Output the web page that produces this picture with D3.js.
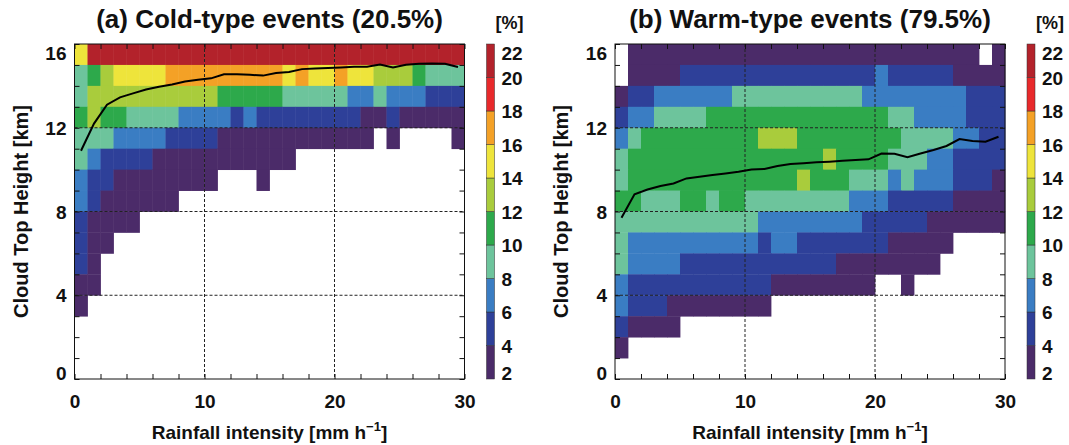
<!DOCTYPE html>
<html>
<head>
<meta charset="utf-8">
<script src="https://cdn.jsdelivr.net/npm/d3@7"></script>
<style>
  body { margin: 0; background: #fff; }
  text { font-family: "Liberation Sans", Arial, Helvetica, sans-serif; font-weight: bold; fill: #111; }
</style>
</head>
<body>
<svg id="fig" width="1069" height="445"></svg>
<script>
// rainfall intensity bins (lower edge, mm/h) and cloud top height bins (lower edge, km, top row first)
var rainBins = [0,1,2,3,4,5,6,7,8,9,10,11,12,13,14,15,16,17,18,19,20,21,22,23,24,25,26,27,28,29];
var heightBins = [15,14,13,12,11,10,9,8,7,6,5,4,3,2,1,0];

// colour levels [%]
var levelEdges = [2,4,6,8,10,12,14,16,18,20,22];
var levelColors = ["#4b2b69","#2e4099","#3a7dc3","#6dc49c","#2da94b","#a9cc3c","#eee43b","#f4a126","#e8292b","#b3222b"];

// frequency [%] per cell, 0 = below 2 %
var coldPct = [
  [15,21,21,21,21,21,21,21,21,21, 21,21,21,21,21,21,21,21,21,21, 21,21,21,21,21,21,21,21,21,21],
  [9,11,13,15,15,15,15,17,17,17, 17,17,17,17,17,17,15,17,15,15, 17,15,15,13,13,13,11,9,9,9],
  [9,13,13,13,13,13,13,13,13,13, 13,11,11,11,11,11,9,9,9,9, 9,7,7,9,7,7,7,5,5,5],
  [11,13,11,11,9,9,9,9,7,7, 7,7,5,7,5,5,5,5,5,5, 5,5,3,3,5,3,3,3,3,3],
  [9,9,9,7,7,7,7,5,5,5, 5,3,3,3,3,3,3,3,3,3, 3,3,3,0,3,0,0,0,0,3],
  [9,7,5,5,5,5,3,3,3,3, 3,3,3,3,3,3,3,0,0,0, 0,0,0,0,0,0,0,0,0,0],
  [7,5,5,3,3,3,3,3,3,3, 3,0,0,0,3,0,0,0,0,0, 0,0,0,0,0,0,0,0,0,0],
  [7,5,3,3,3,3,3,3,0,0, 0,0,0,0,0,0,0,0,0,0, 0,0,0,0,0,0,0,0,0,0],
  [5,3,3,3,3,0,0,0,0,0, 0,0,0,0,0,0,0,0,0,0, 0,0,0,0,0,0,0,0,0,0],
  [5,3,3,0,0,0,0,0,0,0, 0,0,0,0,0,0,0,0,0,0, 0,0,0,0,0,0,0,0,0,0],
  [5,3,0,0,0,0,0,0,0,0, 0,0,0,0,0,0,0,0,0,0, 0,0,0,0,0,0,0,0,0,0],
  [3,3,0,0,0,0,0,0,0,0, 0,0,0,0,0,0,0,0,0,0, 0,0,0,0,0,0,0,0,0,0],
  [3,0,0,0,0,0,0,0,0,0, 0,0,0,0,0,0,0,0,0,0, 0,0,0,0,0,0,0,0,0,0],
  [0,0,0,0,0,0,0,0,0,0, 0,0,0,0,0,0,0,0,0,0, 0,0,0,0,0,0,0,0,0,0],
  [0,0,0,0,0,0,0,0,0,0, 0,0,0,0,0,0,0,0,0,0, 0,0,0,0,0,0,0,0,0,0],
  [0,0,0,0,0,0,0,0,0,0, 0,0,0,0,0,0,0,0,0,0, 0,0,0,0,0,0,0,0,0,0]
];

var warmPct = [
  [0,3,3,3,3,3,3,3,3,3, 3,3,3,3,3,3,3,3,3,3, 3,3,3,3,3,3,3,3,0,3],
  [0,3,3,3,3,5,5,5,5,5, 5,5,5,5,5,5,5,5,5,5, 7,5,5,5,5,5,3,3,3,3],
  [3,5,5,7,7,7,7,7,7,9, 9,9,9,9,9,9,9,9,9,7, 7,7,7,7,7,7,7,5,5,5],
  [5,7,7,9,9,9,9,11,11,11, 11,11,11,11,11,11,11,11,11,11, 11,9,9,7,7,7,7,5,5,5],
  [7,9,11,11,11,11,11,11,11,11, 11,13,13,13,11,11,11,11,11,11, 11,11,9,9,9,9,7,7,5,5],
  [9,11,11,11,11,11,11,11,11,11, 11,11,11,11,11,11,13,11,11,11, 11,9,9,9,7,7,5,5,5,5],
  [9,11,11,11,11,11,11,11,11,11, 11,11,11,11,13,11,11,11,9,9, 9,7,9,7,7,7,5,5,5,3],
  [11,11,9,9,9,11,11,9,11,11, 9,9,9,9,9,9,9,9,7,7, 7,5,5,5,5,5,3,3,3,3],
  [9,9,9,9,9,9,9,9,9,9, 9,7,7,7,7,7,7,7,7,5, 5,5,5,5,3,3,3,3,3,3],
  [9,7,7,7,7,7,7,7,7,7, 7,5,7,7,5,5,5,5,5,5, 5,3,3,3,3,3,0,0,0,0],
  [9,7,7,7,7,5,5,5,5,5, 5,5,5,5,5,5,5,3,3,3, 3,3,3,3,3,0,0,0,0,0],
  [7,5,5,5,5,5,5,5,5,5, 5,5,3,3,3,3,3,3,3,3, 0,0,3,0,0,0,0,0,0,0],
  [7,5,5,5,3,3,3,3,3,3, 3,3,0,0,0,0,0,0,0,0, 0,0,0,0,0,0,0,0,0,0],
  [5,3,3,3,3,0,0,0,0,0, 0,0,0,0,0,0,0,0,0,0, 0,0,0,0,0,0,0,0,0,0],
  [3,0,0,0,0,0,0,0,0,0, 0,0,0,0,0,0,0,0,0,0, 0,0,0,0,0,0,0,0,0,0],
  [0,0,0,0,0,0,0,0,0,0, 0,0,0,0,0,0,0,0,0,0, 0,0,0,0,0,0,0,0,0,0]
];

// mean cloud top height [km] per rainfall bin
var coldMeanTop = [10.9,12.2,13.1,13.45,13.64,13.83,13.96,14.07,14.21,14.29, 14.36,14.55,14.56,14.53,14.49,14.61,14.66,14.8,14.83,14.85, 14.88,14.91,14.91,15.02,14.88,15.01,15.06,15.07,15.06,14.9];
var warmMeanTop = [7.7,8.82,9.05,9.22,9.34,9.58,9.66,9.74,9.82,9.9, 10.01,10.03,10.17,10.27,10.31,10.35,10.38,10.42,10.46,10.49, 10.77,10.76,10.59,10.77,10.94,11.13,11.46,11.37,11.33,11.57];

var panels = [
  { title: "(a) Cold-type events (20.5%)", pct: coldPct, mean: coldMeanTop, left: 74.5 },
  { title: "(b) Warm-type events (79.5%)", pct: warmPct, mean: warmMeanTop, left: 615 }
];

var svg = d3.select("#fig");
var plotW = 390, plotTop = 44, plotBottom = 379;

var color = d3.scaleThreshold()
    .domain(levelEdges.slice(1, -1))
    .range(levelColors);

panels.forEach(function(p){
  var x = d3.scaleLinear().domain([0, 30]).range([p.left, p.left + plotW]);
  var y = d3.scaleLinear().domain([0, 16]).range([plotBottom, plotTop]);
  var g = svg.append("g");

  // cells
  var cells = [];
  p.pct.forEach(function(row, i){
    row.forEach(function(v, j){
      if (v >= 2) cells.push({ r: rainBins[j], h: heightBins[i], v: v });
    });
  });
  g.selectAll("rect.cell")
    .data(cells)
    .enter().append("rect")
      .attr("class", "cell")
      .attr("x", function(d){ return x(d.r); })
      .attr("y", function(d){ return y(d.h + 1); })
      .attr("width", function(d){ return x(d.r + 1) - x(d.r) + 0.4; })
      .attr("height", function(d){ return y(d.h) - y(d.h + 1) + 0.4; })
      .style("fill", function(d){ return color(d.v); });

  // dashed grid
  g.selectAll("line.gx")
    .data([10, 20])
    .enter().append("line")
      .attr("x1", function(d){ return x(d); }).attr("x2", function(d){ return x(d); })
      .attr("y1", plotTop).attr("y2", plotBottom)
      .attr("stroke", "#222").attr("stroke-width", 1).attr("stroke-dasharray", "3,2");
  g.selectAll("line.gy")
    .data([4, 8, 12])
    .enter().append("line")
      .attr("y1", function(d){ return y(d); }).attr("y2", function(d){ return y(d); })
      .attr("x1", p.left).attr("x2", p.left + plotW)
      .attr("stroke", "#222").attr("stroke-width", 1).attr("stroke-dasharray", "3,2");

  // mean cloud top line
  var line = d3.line()
    .x(function(d, i){ return x(rainBins[i] + 0.5); })
    .y(function(d){ return y(d); });
  g.append("path")
    .datum(p.mean)
    .attr("d", line)
    .attr("fill", "none")
    .attr("stroke", "#000")
    .attr("stroke-width", 2);

  // axes
  var xTicks = d3.range(0, 31, 2), yTicks = d3.range(0, 17, 1);
  g.append("g").attr("transform", "translate(0," + plotBottom + ")")
    .call(d3.axisBottom(x).tickValues(xTicks).tickSizeInner(-5).tickSizeOuter(0).tickPadding(16)
      .tickFormat(function(d){ return d % 10 === 0 ? d : ""; }));
  g.append("g").attr("transform", "translate(0," + plotTop + ")")
    .call(d3.axisTop(x).tickValues(xTicks).tickSizeInner(-5).tickSizeOuter(0).tickFormat(""));
  var yl = g.append("g").attr("transform", "translate(" + p.left + ",0)")
    .call(d3.axisLeft(y).tickValues(yTicks).tickSizeInner(-5).tickSizeOuter(0).tickPadding(8)
      .tickFormat(function(d){ return d % 4 === 0 ? d : ""; }));
  g.append("g").attr("transform", "translate(" + (p.left + plotW) + ",0)")
    .call(d3.axisRight(y).tickValues(yTicks).tickSizeInner(-5).tickSizeOuter(0).tickFormat(""));
  g.selectAll(".domain").remove();
  g.selectAll(".tick line").attr("stroke", "#111");
  g.selectAll(".tick text").style("font-size", "19px").attr("fill", "#111");
  yl.selectAll(".tick text").attr("dy", function(d){
    return d === 16 ? "0.82em" : d === 0 ? "0em" : "0.35em";
  });

  g.append("rect")
    .attr("x", p.left).attr("y", plotTop)
    .attr("width", plotW).attr("height", plotBottom - plotTop)
    .attr("fill", "none").attr("stroke", "#111").attr("stroke-width", 1);

  // titles
  g.append("text")
    .attr("x", p.left + plotW / 2).attr("y", 28)
    .attr("text-anchor", "middle")
    .style("font-size", "26px")
    .text(p.title);
  g.append("text")
    .attr("transform", "translate(" + (p.left - 47) + "," + ((plotTop + plotBottom) / 2) + ") rotate(-90)")
    .attr("text-anchor", "middle")
    .style("font-size", "20px")
    .text("Cloud Top Height [km]");
  var xt = g.append("text")
    .attr("x", p.left + plotW / 2).attr("y", 439)
    .attr("text-anchor", "middle")
    .style("font-size", "19px");
  xt.append("tspan").text("Rainfall intensity [mm h");
  xt.append("tspan").attr("dy", "-8").style("font-size", "13px").text("\u22121");
  xt.append("tspan").attr("dy", "8").text("]");

  // colour bar
  var cbX = p.left + plotW + 22, cbW = 8;
  var yc = d3.scaleLinear().domain([2, 22]).range([plotBottom, plotTop]);
  var cb = svg.append("g");
  cb.selectAll("rect")
    .data(levelColors)
    .enter().append("rect")
      .attr("x", cbX)
      .attr("y", function(d, i){ return yc(levelEdges[i + 1]); })
      .attr("width", cbW)
      .attr("height", function(d, i){ return yc(levelEdges[i]) - yc(levelEdges[i + 1]); })
      .attr("fill", function(d){ return d; })
      .attr("stroke", "#333").attr("stroke-width", 0.5);
  var ca = cb.append("g").attr("transform", "translate(" + (cbX + cbW) + ",0)")
    .call(d3.axisRight(yc).tickValues(levelEdges).tickSize(0).tickPadding(7));
  ca.select(".domain").remove();
  ca.selectAll(".tick text").style("font-size", "19px").attr("fill", "#111")
    .attr("dy", function(d){ return d === 22 ? "0.82em" : d === 2 ? "0em" : "0.35em"; });
  cb.append("text")
    .attr("x", cbX + 23).attr("y", 29)
    .attr("text-anchor", "middle")
    .style("font-size", "18px")
    .text("[%]");
});
</script>
</body>
</html>
